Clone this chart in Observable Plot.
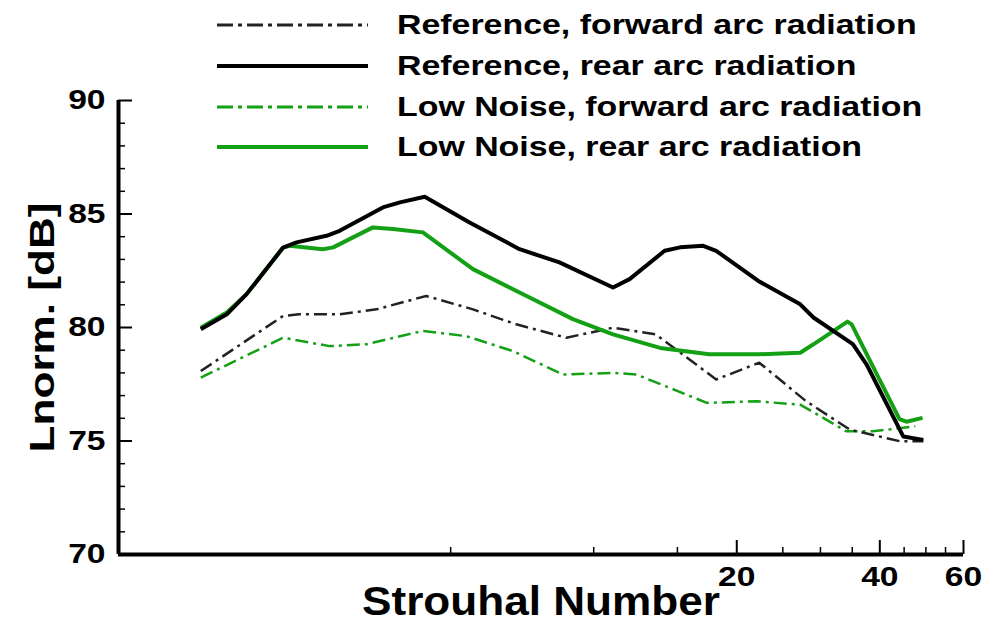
<!DOCTYPE html>
<html><head><meta charset="utf-8">
<script src="https://cdn.jsdelivr.net/npm/d3@7"></script>
<script src="https://cdn.jsdelivr.net/npm/@observablehq/plot@0.6"></script>
<style>
body{margin:0;background:#fff;}
#wrap{position:relative;width:1008px;height:623px;font-family:"Liberation Sans",Arial,sans-serif;font-weight:bold;overflow:hidden;}
#legend{position:absolute;left:0;top:0;width:1008px;height:170px;pointer-events:none;}
.row{position:absolute;left:217px;height:40px;display:flex;align-items:center;}
.row svg{flex:none;}
.row span{font-size:28px;font-weight:bold;color:#000;transform-origin:left center;transform:scaleX(1.21);white-space:nowrap;margin-left:29px;display:inline-block;}
</style></head><body>
<div id="wrap"><div id="chart"></div><div id="legend"></div></div>
<script>
// ---- data (Strouhal number, Lnorm dB) ----
const refFwdX = [1.49, 2.22, 2.40, 2.92, 3.49, 4.44, 5.57, 6.87, 8.76, 10.98, 13.5, 18.1, 22.3, 28.0, 34.6, 44.1, 49.4];
const refFwdY = [78.08, 80.51, 80.58, 80.58, 80.8, 81.39, 80.8, 80.14, 79.55, 79.99, 79.7, 77.71, 78.45, 76.75, 75.5, 74.99, 74.99];

const refRearX = [1.49, 1.69, 1.86, 2.22, 2.37, 2.74, 2.92, 3.60, 3.91, 4.41, 5.48, 6.98, 8.47, 10.98, 11.9, 14.1, 15.2, 17.0, 18.1, 22.2, 27.2, 29.0, 35.1, 37.5, 44.8, 49.4];
const refRearY = [79.92, 80.58, 81.47, 83.52, 83.75, 84.04, 84.26, 85.29, 85.51, 85.76, 84.63, 83.45, 82.87, 81.76, 82.13, 83.38, 83.53, 83.6, 83.38, 82.05, 81.02, 80.44, 79.27, 78.38, 75.2, 75.05];

const lnFwdX = [1.49, 2.22, 2.78, 3.32, 4.37, 5.39, 6.76, 8.62, 10.98, 12.3, 17.3, 22.0, 27.2, 34.0, 38.7, 44.8, 47.5];
const lnFwdY = [77.79, 79.55, 79.18, 79.26, 79.85, 79.62, 78.96, 77.93, 78.0, 77.93, 76.68, 76.75, 76.6, 75.43, 75.43, 75.58, 75.65];

const lnRearX = [1.49, 1.69, 1.86, 2.22, 2.29, 2.69, 2.83, 3.43, 3.78, 4.37, 5.57, 7.33, 9.04, 10.98, 13.8, 17.5, 22.3, 27.2, 29.0, 34.2, 34.9, 44.0, 45.5, 49.2];
const lnRearY = [79.99, 80.66, 81.47, 83.52, 83.6, 83.45, 83.53, 84.41, 84.34, 84.19, 82.57, 81.32, 80.37, 79.7, 79.1, 78.82, 78.82, 78.89, 79.26, 80.26, 80.14, 75.96, 75.85, 76.02];

const seriesNames = ["Reference, forward arc radiation", "Reference, rear arc radiation", "Low Noise, forward arc radiation", "Low Noise, rear arc radiation"];

const xMajor = [20, 40, 60];
const xMinor = [5, 10, 15, 25, 30, 35, 45, 50, 55];
const yMajor = [70, 75, 80, 85, 90];
const yMinor = [71, 72, 73, 74, 76, 77, 78, 79, 81, 82, 83, 84, 86, 87, 88, 89];

const xTitle = "Strouhal Number";
const yTitle = "Lnorm. [dB]";

// ---- styles ----
const GREEN = "#14a014";
const DARK = "#222";
const DASH = "13,5,3,5";
const styles = [
  {stroke: DARK, strokeWidth: 2.5, dash: DASH},
  {stroke: "#000", strokeWidth: 4, dash: null},
  {stroke: GREEN, strokeWidth: 2.5, dash: DASH},
  {stroke: GREEN, strokeWidth: 4, dash: null}
];
const xs = [refFwdX, refRearX, lnFwdX, lnRearX];
const ys = [refFwdY, refRearY, lnFwdY, lnRearY];
const table = seriesNames.map((n, k) => xs[k].map((x, i) => ({St: x, L: ys[k][i], series: n})));

const W = 1008, H = 623;
const mL = 118, mR = 45, mT = 100, mB = 69;
const pw = W - mL - mR, ph = H - mT - mB;

const lineMarks = table.map((d, k) => Plot.line(d, {
  x: "St", y: "L", stroke: styles[k].stroke, strokeWidth: styles[k].strokeWidth,
  strokeDasharray: styles[k].dash, strokeLinejoin: "round", strokeLinecap: "butt"
}));

const chart = Plot.plot({
  width: W, height: H,
  marginLeft: mL, marginRight: mR, marginTop: mT, marginBottom: mB,
  style: {fontFamily: "'Liberation Sans', Arial, sans-serif", fontWeight: "bold", fontSize: "28px", color: "#000", background: "#fff", overflow: "visible"},
  x: {type: "log", domain: [1, 60]},
  y: {domain: [70, 90]},
  marks: [
    lineMarks[2], lineMarks[0], lineMarks[3], lineMarks[1],
    // ticks (inward)
    Plot.tickY(yMajor, {y: d => d, insetRight: pw - 14, strokeWidth: 2, stroke: "#000"}),
    Plot.tickY(yMinor, {y: d => d, insetRight: pw - 7, strokeWidth: 1.5, stroke: "#000"}),
    Plot.tickX(xMajor, {x: d => d, insetTop: ph - 14, strokeWidth: 2, stroke: "#000"}),
    Plot.tickX(xMinor, {x: d => d, insetTop: ph - 7, strokeWidth: 1.5, stroke: "#000"}),
    // axis lines
    Plot.ruleY([70], {strokeWidth: 4, stroke: "#000"}),
    Plot.ruleX([1], {strokeWidth: 4, stroke: "#000"}),
    // tick labels
    Plot.axisY({ticks: yMajor, tickSize: 0, tickPadding: 13, label: null, fontSize: 28, tickFormat: d => String(d)}),
    Plot.axisX({ticks: xMajor, tickSize: 0, tickPadding: 12, label: null, fontSize: 28, tickFormat: d => String(d)}),
    // axis titles
    Plot.text([xTitle], {frameAnchor: "bottom", dy: 48, fontSize: 40, fontWeight: "bold", lineAnchor: "middle", textAnchor: "middle", text: d => d}),
    Plot.text([yTitle], {frameAnchor: "left", dx: -76, rotate: -90, fontSize: 35, fontWeight: "bold", lineAnchor: "middle", textAnchor: "middle", text: d => d})
  ]
});
document.getElementById("chart").appendChild(chart);

// stretch texts horizontally (along their own baseline) around their anchor, as in the reference
function stretch(t, sx) {
  const tr = t.getAttribute("transform") || "";
  t.setAttribute("transform", (tr + ` scale(${sx},1)`).trim());
}
const tickLabels = new Set([...xMajor, ...yMajor].map(String));
chart.querySelectorAll("text").forEach(t => {
  const s = t.textContent;
  if (s === xTitle) stretch(t, 358 / t.getComputedTextLength());
  else if (s === yTitle) stretch(t, 250 / t.getComputedTextLength());
  else if (tickLabels.has(s)) stretch(t, 1.2);
});

// legend
const legend = document.getElementById("legend");
const rowY = [25, 66, 107, 147];
seriesNames.forEach((n, k) => {
  const row = document.createElement("div");
  row.className = "row";
  row.style.top = (rowY[k] - 20) + "px";
  const st = styles[k];
  const sw = k % 2 === 1 ? 4 : 3;
  row.innerHTML = `<svg width="151" height="40"><line x1="0" x2="151" y1="20" y2="20" stroke="${st.stroke}" stroke-width="${sw}" ${st.dash ? `stroke-dasharray="16,5,4,5"` : ""}/></svg><span>${n}</span>`;
  legend.appendChild(row);
});
</script>
</body></html>
